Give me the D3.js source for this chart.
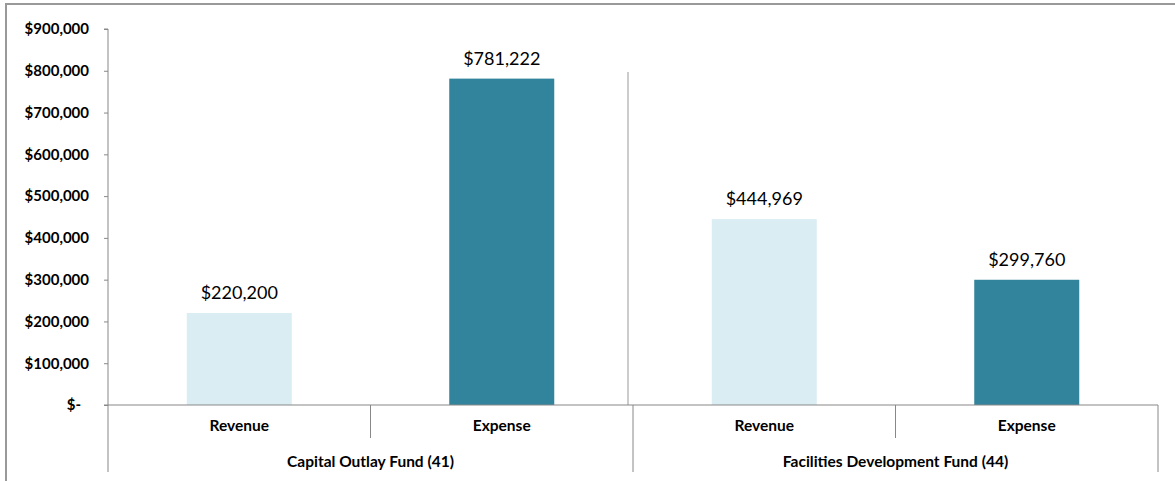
<!DOCTYPE html>
<html>
<head>
<meta charset="utf-8">
<script src="https://cdn.jsdelivr.net/npm/d3@7"></script>
<style>
  html, body { margin: 0; padding: 0; background: #fff; }
  svg { display: block; }
  text { font-family: Lato, "Open Sans", sans-serif; fill: #000; }
</style>
</head>
<body>
<svg id="chart" width="1175" height="481"></svg>
<script>
const groups = ["Capital Outlay Fund (41)", "Facilities Development Fund (44)"];
const categories = ["Revenue", "Expense"];
const values = [220200, 781222, 444969, 299760];
const yTicks = [0, 100000, 200000, 300000, 400000, 500000, 600000, 700000, 800000, 900000];
const colors = { Revenue: "#DAEDF3", Expense: "#31849B" };

(function () {
const svg = d3.select("#chart");
const W = 1175, H = 481;
const pLeft = 108, pRight = 1158, pTop = 29, pBottom = 405;

// outer frame
svg.append("rect").attr("x", 6).attr("y", 4).attr("width", W + 10).attr("height", H + 10)
  .attr("fill", "none").attr("stroke", "#999").attr("stroke-width", 2);

const data = [];
groups.forEach((g, gi) => categories.forEach((c, ci) => {
  data.push({ key: gi + "-" + c, group: g, cat: c, value: values[gi * categories.length + ci] });
}));

const x = d3.scaleBand().domain(data.map(d => d.key)).range([pLeft, pRight]).paddingInner(0.6).paddingOuter(0.3);
const xOuter = d3.scaleBand().domain(data.map(d => d.key)).range([pLeft, pRight]);
const y = d3.scaleLinear().domain([0, 900000]).range([pBottom, pTop]);

// y axis
const fmt = v => v === 0 ? "$-" : "$" + d3.format(",")(v);
const yAxis = d3.axisLeft(y).tickValues(yTicks).tickSize(4).tickPadding(15).tickFormat(fmt);
const gy = svg.append("g").attr("transform", `translate(${pLeft},0)`).call(yAxis);
gy.select(".domain").attr("stroke", "#888").attr("d", `M-4,${pTop}H0V${pBottom}`);
gy.selectAll(".tick line").attr("stroke", "#888");
gy.selectAll(".tick text").attr("font-size", 15).attr("font-weight", "bold")
  .style("font-family", "Lato, 'Open Sans', sans-serif").attr("fill", "#000")
  .attr("dx", d => d === 0 ? -8 : 0);

// divider line in plot between groups
svg.append("line").attr("x1", 628).attr("x2", 628).attr("y1", 72).attr("y2", pBottom)
  .attr("stroke", "#aaa").attr("stroke-width", 1.2);

// bars
svg.selectAll("rect.bar").data(data).enter().append("rect").attr("class", "bar")
  .attr("x", d => x(d.key)).attr("width", x.bandwidth())
  .attr("y", d => y(d.value)).attr("height", d => y(0) - y(d.value))
  .attr("fill", d => colors[d.cat]);

// value labels
svg.selectAll("text.val").data(data).enter().append("text").attr("class", "val")
  .attr("x", d => x(d.key) + x.bandwidth() / 2).attr("y", d => y(d.value) - 14)
  .attr("text-anchor", "middle").attr("font-size", 18)
  .text(d => "$" + d3.format(",")(d.value));

// x axis baseline
svg.append("line").attr("x1", pLeft - 4).attr("x2", pRight).attr("y1", pBottom).attr("y2", pBottom)
  .attr("stroke", "#888").attr("stroke-width", 1.2);

// category separators (short)
data.forEach((d, i) => {
  if (i > 0 && i % categories.length !== 0) {
    const xx = xOuter(d.key);
    svg.append("line").attr("x1", xx).attr("x2", xx).attr("y1", pBottom).attr("y2", 438)
      .attr("stroke", "#888");
  }
});
// group separators (long)
const groupEdges = [pLeft];
groups.forEach((g, gi) => {
  const last = data[gi * categories.length + categories.length - 1];
  groupEdges.push(xOuter(last.key) + xOuter.bandwidth());
});
groupEdges.forEach(xx => {
  svg.append("line").attr("x1", xx).attr("x2", xx).attr("y1", pBottom).attr("y2", 472)
    .attr("stroke", "#888");
});

// category labels
svg.selectAll("text.cat").data(data).enter().append("text").attr("class", "cat")
  .attr("x", d => xOuter(d.key) + xOuter.bandwidth() / 2).attr("y", 431)
  .attr("text-anchor", "middle").attr("font-size", 15.5).attr("font-weight", "bold")
  .text(d => d.cat);

// group labels
groups.forEach((g, gi) => {
  const cx = (groupEdges[gi] + groupEdges[gi + 1]) / 2;
  svg.append("text").attr("x", cx).attr("y", 467).attr("text-anchor", "middle")
    .attr("font-size", 15.5).attr("font-weight", "bold").text(g);
});
})();
</script>
</body>
</html>
